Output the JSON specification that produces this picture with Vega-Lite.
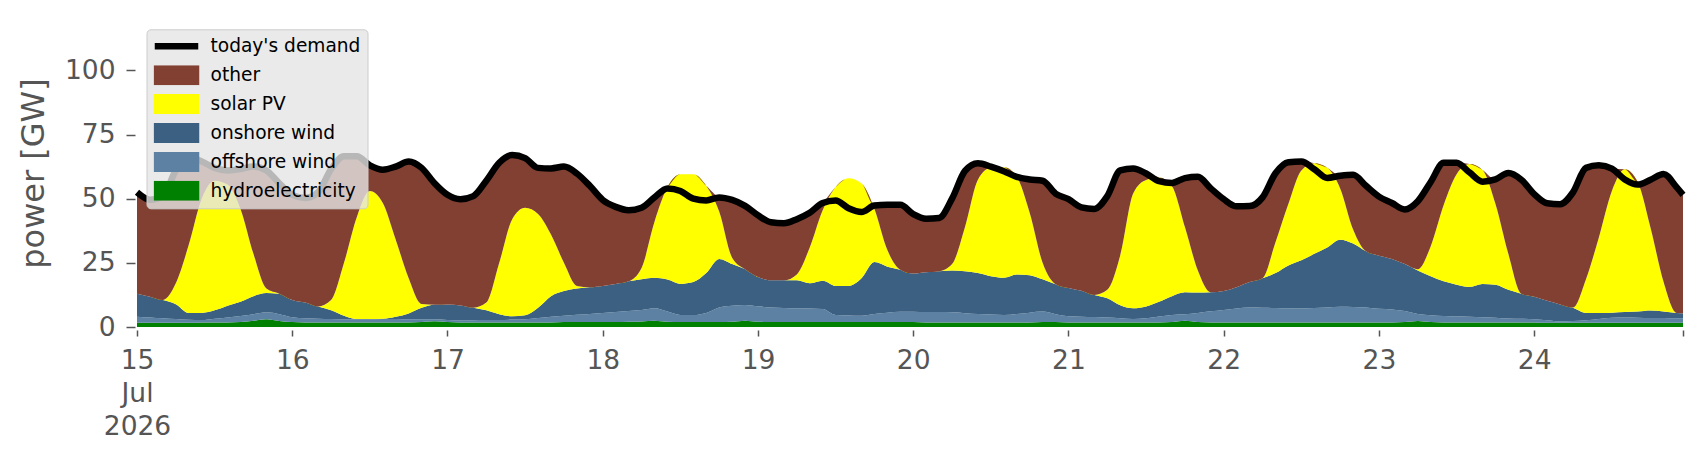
{
  "$schema": "https://vega.github.io/schema/vega-lite/v6.json",
  "width": 1546,
  "height": 308,
  "autosize": {"type": "none"},
  "padding": {"left": 137, "top": 19, "right": 23, "bottom": 133},
  "background": "white",
  "config": {"view": {"stroke": null}, "font": "DejaVu Sans"},
  "datasets": {
    "series": [
      {"source": "hydroelectricity", "rank": 1},
      {"source": "offshore wind", "rank": 2},
      {"source": "onshore wind", "rank": 3},
      {"source": "solar PV", "rank": 4},
      {"source": "other", "rank": 5}
    ],
    "gen": [
      {"t":"2026-07-15T00:00Z","hydroelectricity":1.7,"offshore wind":2.3,"onshore wind":9.0,"solar PV":0,"other":39.5,"demand":52.5},
      {"t":"2026-07-15T02:00Z","hydroelectricity":1.7,"offshore wind":2.0,"onshore wind":8.1,"solar PV":0,"other":37.8,"demand":49.6},
      {"t":"2026-07-15T04:00Z","hydroelectricity":1.7,"offshore wind":1.7,"onshore wind":7.1,"solar PV":0,"other":40.5,"demand":51.0},
      {"t":"2026-07-15T06:00Z","hydroelectricity":1.7,"offshore wind":1.4,"onshore wind":5.8,"solar PV":8.1,"other":44.0,"demand":61.0},
      {"t":"2026-07-15T08:00Z","hydroelectricity":1.7,"offshore wind":1.1,"onshore wind":2.7,"solar PV":26.5,"other":34.0,"demand":66.0},
      {"t":"2026-07-15T10:00Z","hydroelectricity":1.8,"offshore wind":0.9,"onshore wind":2.8,"solar PV":44.5,"other":14.5,"demand":64.5},
      {"t":"2026-07-15T12:00Z","hydroelectricity":1.8,"offshore wind":1.4,"onshore wind":3.3,"solar PV":50.5,"other":5.0,"demand":62.0},
      {"t":"2026-07-15T14:00Z","hydroelectricity":1.8,"offshore wind":1.9,"onshore wind":4.6,"solar PV":47.2,"other":5.5,"demand":61.0},
      {"t":"2026-07-15T16:00Z","hydroelectricity":1.9,"offshore wind":2.4,"onshore wind":5.5,"solar PV":36.2,"other":15.5,"demand":61.5},
      {"t":"2026-07-15T18:00Z","hydroelectricity":2.4,"offshore wind":2.6,"onshore wind":7.0,"solar PV":16.5,"other":34.0,"demand":62.5},
      {"t":"2026-07-15T20:00Z","hydroelectricity":3.0,"offshore wind":2.7,"onshore wind":7.5,"solar PV":1.8,"other":46.0,"demand":61.0},
      {"t":"2026-07-15T22:00Z","hydroelectricity":2.3,"offshore wind":2.7,"onshore wind":8.0,"solar PV":0,"other":43.0,"demand":56.0},
      {"t":"2026-07-16T00:00Z","hydroelectricity":1.9,"offshore wind":1.9,"onshore wind":6.7,"solar PV":0,"other":41.0,"demand":51.5},
      {"t":"2026-07-16T02:00Z","hydroelectricity":1.8,"offshore wind":1.6,"onshore wind":6.1,"solar PV":0,"other":40.8,"demand":50.3},
      {"t":"2026-07-16T04:00Z","hydroelectricity":1.8,"offshore wind":1.4,"onshore wind":4.8,"solar PV":0,"other":44.5,"demand":52.5},
      {"t":"2026-07-16T06:00Z","hydroelectricity":1.8,"offshore wind":1.3,"onshore wind":3.4,"solar PV":4.0,"other":51.0,"demand":61.5},
      {"t":"2026-07-16T08:00Z","hydroelectricity":1.8,"offshore wind":1.2,"onshore wind":1.4,"solar PV":20.6,"other":41.5,"demand":66.5},
      {"t":"2026-07-16T10:00Z","hydroelectricity":1.8,"offshore wind":1.2,"onshore wind":0.1,"solar PV":39.9,"other":23.5,"demand":66.5},
      {"t":"2026-07-16T12:00Z","hydroelectricity":1.8,"offshore wind":1.2,"onshore wind":0.1,"solar PV":49.9,"other":10.0,"demand":63.0},
      {"t":"2026-07-16T14:00Z","hydroelectricity":1.8,"offshore wind":1.3,"onshore wind":0.1,"solar PV":45.1,"other":13.0,"demand":61.3},
      {"t":"2026-07-16T16:00Z","hydroelectricity":1.8,"offshore wind":1.3,"onshore wind":0.9,"solar PV":30.0,"other":28.5,"demand":62.5},
      {"t":"2026-07-16T18:00Z","hydroelectricity":1.8,"offshore wind":1.2,"onshore wind":2.3,"solar PV":13.7,"other":45.5,"demand":64.5},
      {"t":"2026-07-16T20:00Z","hydroelectricity":1.9,"offshore wind":1.1,"onshore wind":4.5,"solar PV":1.5,"other":53.0,"demand":62.0},
      {"t":"2026-07-16T22:00Z","hydroelectricity":2.2,"offshore wind":0.8,"onshore wind":5.7,"solar PV":0,"other":47.3,"demand":56.0},
      {"t":"2026-07-17T00:00Z","hydroelectricity":1.9,"offshore wind":0.8,"onshore wind":6.1,"solar PV":0,"other":42.7,"demand":51.5},
      {"t":"2026-07-17T02:00Z","hydroelectricity":1.8,"offshore wind":0.7,"onshore wind":5.9,"solar PV":0,"other":41.4,"demand":49.8},
      {"t":"2026-07-17T04:00Z","hydroelectricity":1.8,"offshore wind":0.8,"onshore wind":4.9,"solar PV":0,"other":43.5,"demand":51.0},
      {"t":"2026-07-17T06:00Z","hydroelectricity":1.8,"offshore wind":0.9,"onshore wind":3.8,"solar PV":3.0,"other":47.5,"demand":57.0},
      {"t":"2026-07-17T08:00Z","hydroelectricity":1.8,"offshore wind":0.9,"onshore wind":2.3,"solar PV":20.0,"other":39.0,"demand":64.0},
      {"t":"2026-07-17T10:00Z","hydroelectricity":1.8,"offshore wind":1.1,"onshore wind":1.3,"solar PV":37.8,"other":25.0,"demand":67.0},
      {"t":"2026-07-17T12:00Z","hydroelectricity":1.8,"offshore wind":1.2,"onshore wind":1.6,"solar PV":41.9,"other":19.3,"demand":65.8},
      {"t":"2026-07-17T14:00Z","hydroelectricity":1.8,"offshore wind":1.7,"onshore wind":4.0,"solar PV":36.5,"other":18.0,"demand":62.0},
      {"t":"2026-07-17T16:00Z","hydroelectricity":1.8,"offshore wind":2.2,"onshore wind":8.0,"solar PV":24.0,"other":25.8,"demand":61.8},
      {"t":"2026-07-17T18:00Z","hydroelectricity":1.9,"offshore wind":2.5,"onshore wind":9.6,"solar PV":11.0,"other":37.5,"demand":62.5},
      {"t":"2026-07-17T20:00Z","hydroelectricity":1.9,"offshore wind":2.9,"onshore wind":10.2,"solar PV":1.0,"other":43.8,"demand":59.8},
      {"t":"2026-07-17T22:00Z","hydroelectricity":1.9,"offshore wind":3.2,"onshore wind":10.4,"solar PV":0,"other":39.5,"demand":55.0},
      {"t":"2026-07-18T00:00Z","hydroelectricity":1.9,"offshore wind":3.6,"onshore wind":10.5,"solar PV":0,"other":33.5,"demand":49.5},
      {"t":"2026-07-18T02:00Z","hydroelectricity":1.9,"offshore wind":3.9,"onshore wind":11.0,"solar PV":0,"other":30.0,"demand":46.8},
      {"t":"2026-07-18T04:00Z","hydroelectricity":2.0,"offshore wind":4.2,"onshore wind":11.6,"solar PV":0,"other":27.7,"demand":45.5},
      {"t":"2026-07-18T06:00Z","hydroelectricity":2.1,"offshore wind":4.5,"onshore wind":12.0,"solar PV":4.4,"other":23.5,"demand":46.5},
      {"t":"2026-07-18T08:00Z","hydroelectricity":2.4,"offshore wind":4.9,"onshore wind":11.9,"solar PV":21.8,"other":9.5,"demand":50.5},
      {"t":"2026-07-18T10:00Z","hydroelectricity":2.0,"offshore wind":4.0,"onshore wind":12.5,"solar PV":36.0,"other":0,"demand":54.0},
      {"t":"2026-07-18T12:00Z","hydroelectricity":1.9,"offshore wind":2.8,"onshore wind":12.1,"solar PV":42.7,"other":0,"demand":53.0},
      {"t":"2026-07-18T14:00Z","hydroelectricity":1.9,"offshore wind":2.8,"onshore wind":12.8,"solar PV":42.0,"other":0,"demand":50.0},
      {"t":"2026-07-18T16:00Z","hydroelectricity":1.9,"offshore wind":3.6,"onshore wind":15.5,"solar PV":34.0,"other":0,"demand":49.3},
      {"t":"2026-07-18T18:00Z","hydroelectricity":1.9,"offshore wind":5.7,"onshore wind":18.9,"solar PV":18.5,"other":5.5,"demand":50.5},
      {"t":"2026-07-18T20:00Z","hydroelectricity":2.0,"offshore wind":6.3,"onshore wind":16.2,"solar PV":2.5,"other":22.5,"demand":49.5},
      {"t":"2026-07-18T22:00Z","hydroelectricity":2.4,"offshore wind":6.2,"onshore wind":13.9,"solar PV":0,"other":24.7,"demand":47.2},
      {"t":"2026-07-19T00:00Z","hydroelectricity":2.0,"offshore wind":6.1,"onshore wind":11.4,"solar PV":0,"other":24.0,"demand":43.5},
      {"t":"2026-07-19T02:00Z","hydroelectricity":1.9,"offshore wind":5.7,"onshore wind":10.6,"solar PV":0,"other":22.6,"demand":40.8},
      {"t":"2026-07-19T04:00Z","hydroelectricity":1.9,"offshore wind":5.5,"onshore wind":10.8,"solar PV":0,"other":22.2,"demand":40.4},
      {"t":"2026-07-19T06:00Z","hydroelectricity":1.9,"offshore wind":5.4,"onshore wind":10.9,"solar PV":2.3,"other":21.5,"demand":42.0},
      {"t":"2026-07-19T08:00Z","hydroelectricity":1.9,"offshore wind":5.3,"onshore wind":9.8,"solar PV":14.0,"other":13.5,"demand":44.5},
      {"t":"2026-07-19T10:00Z","hydroelectricity":1.9,"offshore wind":5.1,"onshore wind":11.0,"solar PV":27.5,"other":2.8,"demand":48.3},
      {"t":"2026-07-19T12:00Z","hydroelectricity":1.9,"offshore wind":2.8,"onshore wind":11.3,"solar PV":38.5,"other":0,"demand":49.3},
      {"t":"2026-07-19T14:00Z","hydroelectricity":1.9,"offshore wind":2.6,"onshore wind":11.5,"solar PV":42.0,"other":0,"demand":46.3},
      {"t":"2026-07-19T16:00Z","hydroelectricity":1.9,"offshore wind":2.5,"onshore wind":14.6,"solar PV":37.0,"other":0,"demand":44.8},
      {"t":"2026-07-19T18:00Z","hydroelectricity":1.9,"offshore wind":3.2,"onshore wind":20.2,"solar PV":20.7,"other":1.3,"demand":47.3},
      {"t":"2026-07-19T20:00Z","hydroelectricity":1.9,"offshore wind":3.7,"onshore wind":17.9,"solar PV":6.5,"other":17.6,"demand":47.6},
      {"t":"2026-07-19T22:00Z","hydroelectricity":1.9,"offshore wind":4.0,"onshore wind":16.4,"solar PV":0,"other":25.3,"demand":47.6},
      {"t":"2026-07-20T00:00Z","hydroelectricity":1.9,"offshore wind":4.0,"onshore wind":14.9,"solar PV":0,"other":23.2,"demand":44.0},
      {"t":"2026-07-20T02:00Z","hydroelectricity":1.8,"offshore wind":4.0,"onshore wind":15.5,"solar PV":0,"other":20.9,"demand":42.2},
      {"t":"2026-07-20T04:00Z","hydroelectricity":1.8,"offshore wind":4.0,"onshore wind":15.9,"solar PV":0,"other":20.8,"demand":42.5},
      {"t":"2026-07-20T06:00Z","hydroelectricity":1.8,"offshore wind":3.9,"onshore wind":16.3,"solar PV":2.5,"other":25.5,"demand":50.0},
      {"t":"2026-07-20T08:00Z","hydroelectricity":1.8,"offshore wind":3.6,"onshore wind":16.3,"solar PV":17.3,"other":21.8,"demand":60.8},
      {"t":"2026-07-20T10:00Z","hydroelectricity":1.8,"offshore wind":3.3,"onshore wind":15.9,"solar PV":36.4,"other":6.4,"demand":63.8},
      {"t":"2026-07-20T12:00Z","hydroelectricity":1.8,"offshore wind":3.1,"onshore wind":14.9,"solar PV":42.2,"other":0.5,"demand":62.5},
      {"t":"2026-07-20T14:00Z","hydroelectricity":1.8,"offshore wind":2.9,"onshore wind":14.5,"solar PV":43.0,"other":0,"demand":60.7},
      {"t":"2026-07-20T16:00Z","hydroelectricity":1.8,"offshore wind":3.3,"onshore wind":15.4,"solar PV":38.0,"other":0,"demand":58.5},
      {"t":"2026-07-20T18:00Z","hydroelectricity":1.8,"offshore wind":3.8,"onshore wind":14.6,"solar PV":24.3,"other":13.0,"demand":57.5},
      {"t":"2026-07-20T20:00Z","hydroelectricity":1.9,"offshore wind":4.1,"onshore wind":12.6,"solar PV":6.4,"other":32.0,"demand":57.0},
      {"t":"2026-07-20T22:00Z","hydroelectricity":1.9,"offshore wind":3.1,"onshore wind":11.7,"solar PV":0,"other":35.3,"demand":52.0},
      {"t":"2026-07-21T00:00Z","hydroelectricity":1.8,"offshore wind":2.4,"onshore wind":11.0,"solar PV":0,"other":34.6,"demand":49.8},
      {"t":"2026-07-21T02:00Z","hydroelectricity":1.8,"offshore wind":2.2,"onshore wind":10.1,"solar PV":0,"other":32.5,"demand":46.6},
      {"t":"2026-07-21T04:00Z","hydroelectricity":1.8,"offshore wind":2.1,"onshore wind":8.6,"solar PV":0,"other":33.5,"demand":46.0},
      {"t":"2026-07-21T06:00Z","hydroelectricity":1.8,"offshore wind":1.9,"onshore wind":7.5,"solar PV":3.3,"other":36.5,"demand":51.0},
      {"t":"2026-07-21T08:00Z","hydroelectricity":1.8,"offshore wind":1.6,"onshore wind":5.1,"solar PV":19.5,"other":33.0,"demand":61.0},
      {"t":"2026-07-21T10:00Z","hydroelectricity":1.8,"offshore wind":1.3,"onshore wind":4.2,"solar PV":44.7,"other":9.8,"demand":61.8},
      {"t":"2026-07-21T12:00Z","hydroelectricity":1.8,"offshore wind":1.6,"onshore wind":4.6,"solar PV":49.3,"other":2.5,"demand":59.8},
      {"t":"2026-07-21T14:00Z","hydroelectricity":1.8,"offshore wind":2.3,"onshore wind":5.7,"solar PV":48.4,"other":0,"demand":56.8},
      {"t":"2026-07-21T16:00Z","hydroelectricity":1.9,"offshore wind":2.8,"onshore wind":7.3,"solar PV":42.8,"other":1.3,"demand":56.1},
      {"t":"2026-07-21T18:00Z","hydroelectricity":2.4,"offshore wind":2.6,"onshore wind":8.5,"solar PV":25.5,"other":19.0,"demand":58.0},
      {"t":"2026-07-21T20:00Z","hydroelectricity":1.9,"offshore wind":3.6,"onshore wind":7.9,"solar PV":8.6,"other":36.5,"demand":58.5},
      {"t":"2026-07-21T22:00Z","hydroelectricity":1.8,"offshore wind":4.3,"onshore wind":7.4,"solar PV":0,"other":40.5,"demand":54.0},
      {"t":"2026-07-22T00:00Z","hydroelectricity":1.8,"offshore wind":4.8,"onshore wind":7.4,"solar PV":0,"other":35.8,"demand":49.8},
      {"t":"2026-07-22T02:00Z","hydroelectricity":1.8,"offshore wind":5.4,"onshore wind":8.3,"solar PV":0,"other":31.5,"demand":47.0},
      {"t":"2026-07-22T04:00Z","hydroelectricity":1.8,"offshore wind":5.8,"onshore wind":9.9,"solar PV":0,"other":29.6,"demand":47.1},
      {"t":"2026-07-22T06:00Z","hydroelectricity":1.8,"offshore wind":5.7,"onshore wind":11.5,"solar PV":0,"other":31.5,"demand":50.5},
      {"t":"2026-07-22T08:00Z","hydroelectricity":1.8,"offshore wind":5.6,"onshore wind":13.6,"solar PV":12.0,"other":26.9,"demand":59.9},
      {"t":"2026-07-22T10:00Z","hydroelectricity":1.8,"offshore wind":5.5,"onshore wind":16.7,"solar PV":24.0,"other":16.2,"demand":64.2},
      {"t":"2026-07-22T12:00Z","hydroelectricity":1.8,"offshore wind":5.4,"onshore wind":18.8,"solar PV":35.0,"other":3.5,"demand":64.5},
      {"t":"2026-07-22T14:00Z","hydroelectricity":1.8,"offshore wind":5.6,"onshore wind":21.1,"solar PV":35.3,"other":0,"demand":61.5},
      {"t":"2026-07-22T16:00Z","hydroelectricity":1.8,"offshore wind":5.8,"onshore wind":23.4,"solar PV":31.0,"other":0,"demand":58.1},
      {"t":"2026-07-22T18:00Z","hydroelectricity":1.8,"offshore wind":6.1,"onshore wind":26.1,"solar PV":20.0,"other":4.9,"demand":58.9},
      {"t":"2026-07-22T20:00Z","hydroelectricity":1.8,"offshore wind":6.0,"onshore wind":24.7,"solar PV":5.5,"other":21.3,"demand":59.3},
      {"t":"2026-07-22T22:00Z","hydroelectricity":1.8,"offshore wind":5.8,"onshore wind":21.9,"solar PV":0,"other":25.5,"demand":55.0},
      {"t":"2026-07-23T00:00Z","hydroelectricity":1.8,"offshore wind":5.3,"onshore wind":20.7,"solar PV":0,"other":23.0,"demand":50.8},
      {"t":"2026-07-23T02:00Z","hydroelectricity":1.8,"offshore wind":5.0,"onshore wind":19.7,"solar PV":0,"other":21.8,"demand":48.3},
      {"t":"2026-07-23T04:00Z","hydroelectricity":1.9,"offshore wind":4.3,"onshore wind":18.3,"solar PV":0,"other":21.3,"demand":45.8},
      {"t":"2026-07-23T06:00Z","hydroelectricity":2.3,"offshore wind":2.8,"onshore wind":16.9,"solar PV":0.5,"other":26.5,"demand":49.0},
      {"t":"2026-07-23T08:00Z","hydroelectricity":1.9,"offshore wind":2.7,"onshore wind":15.2,"solar PV":11.7,"other":25.0,"demand":56.5},
      {"t":"2026-07-23T10:00Z","hydroelectricity":1.8,"offshore wind":2.5,"onshore wind":13.5,"solar PV":29.7,"other":16.5,"demand":64.0},
      {"t":"2026-07-23T12:00Z","hydroelectricity":1.8,"offshore wind":2.4,"onshore wind":12.3,"solar PV":43.0,"other":4.5,"demand":64.0},
      {"t":"2026-07-23T14:00Z","hydroelectricity":1.8,"offshore wind":2.2,"onshore wind":11.6,"solar PV":47.9,"other":0,"demand":60.2},
      {"t":"2026-07-23T16:00Z","hydroelectricity":1.8,"offshore wind":2.0,"onshore wind":13.0,"solar PV":44.4,"other":0,"demand":56.6},
      {"t":"2026-07-23T18:00Z","hydroelectricity":1.8,"offshore wind":1.8,"onshore wind":12.9,"solar PV":31.5,"other":9.5,"demand":57.5},
      {"t":"2026-07-23T20:00Z","hydroelectricity":1.8,"offshore wind":1.5,"onshore wind":11.2,"solar PV":14.0,"other":31.5,"demand":60.0},
      {"t":"2026-07-23T22:00Z","hydroelectricity":1.8,"offshore wind":1.4,"onshore wind":9.8,"solar PV":0,"other":44.4,"demand":57.4},
      {"t":"2026-07-24T00:00Z","hydroelectricity":1.8,"offshore wind":1.2,"onshore wind":8.8,"solar PV":0,"other":40.0,"demand":51.8},
      {"t":"2026-07-24T02:00Z","hydroelectricity":1.7,"offshore wind":0.9,"onshore wind":7.6,"solar PV":0,"other":38.0,"demand":48.2},
      {"t":"2026-07-24T04:00Z","hydroelectricity":1.7,"offshore wind":0.5,"onshore wind":6.6,"solar PV":0,"other":39.0,"demand":47.8},
      {"t":"2026-07-24T06:00Z","hydroelectricity":1.7,"offshore wind":0.6,"onshore wind":5.2,"solar PV":0.1,"other":44.9,"demand":52.5},
      {"t":"2026-07-24T08:00Z","hydroelectricity":1.7,"offshore wind":0.9,"onshore wind":2.9,"solar PV":13.1,"other":43.4,"demand":62.0},
      {"t":"2026-07-24T10:00Z","hydroelectricity":1.7,"offshore wind":1.4,"onshore wind":2.4,"solar PV":29.5,"other":28.0,"demand":63.0},
      {"t":"2026-07-24T12:00Z","hydroelectricity":1.7,"offshore wind":1.9,"onshore wind":2.0,"solar PV":47.4,"other":8.7,"demand":61.7},
      {"t":"2026-07-24T14:00Z","hydroelectricity":1.7,"offshore wind":2.0,"onshore wind":2.1,"solar PV":55.7,"other":0,"demand":57.5},
      {"t":"2026-07-24T16:00Z","hydroelectricity":1.7,"offshore wind":1.9,"onshore wind":2.4,"solar PV":50.5,"other":0,"demand":55.5},
      {"t":"2026-07-24T18:00Z","hydroelectricity":1.7,"offshore wind":1.8,"onshore wind":2.9,"solar PV":32.1,"other":18.9,"demand":57.4},
      {"t":"2026-07-24T20:00Z","hydroelectricity":1.7,"offshore wind":1.8,"onshore wind":2.5,"solar PV":11.5,"other":42.1,"demand":59.6},
      {"t":"2026-07-24T22:00Z","hydroelectricity":1.7,"offshore wind":1.7,"onshore wind":2.1,"solar PV":0,"other":49.0,"demand":54.5},
      {"t":"2026-07-24T23:00Z","hydroelectricity":1.7,"offshore wind":1.7,"onshore wind":1.9,"solar PV":0,"other":46.2,"demand":51.5}
    ]
  },
  "data": {"name": "gen"},
  "encoding": {
    "x": {
      "field": "t",
      "type": "temporal",
      "scale": {
        "type": "utc",
        "domain": [
          {"year": 2026, "month": "jul", "date": 15, "hours": 0, "utc": true},
          {"year": 2026, "month": "jul", "date": 24, "hours": 23, "utc": true}
        ]
      },
      "axis": {
        "title": null,
        "values": [
          {"year": 2026, "month": "jul", "date": 15, "utc": true},
          {"year": 2026, "month": "jul", "date": 16, "utc": true},
          {"year": 2026, "month": "jul", "date": 17, "utc": true},
          {"year": 2026, "month": "jul", "date": 18, "utc": true},
          {"year": 2026, "month": "jul", "date": 19, "utc": true},
          {"year": 2026, "month": "jul", "date": 20, "utc": true},
          {"year": 2026, "month": "jul", "date": 21, "utc": true},
          {"year": 2026, "month": "jul", "date": 22, "utc": true},
          {"year": 2026, "month": "jul", "date": 23, "utc": true},
          {"year": 2026, "month": "jul", "date": 24, "utc": true},
          {"year": 2026, "month": "jul", "date": 24, "hours": 23, "utc": true}
        ],
        "labelExpr": "utchours(datum.value) !== 0 ? '' : (utcdate(datum.value) === 15 ? ['15', 'Jul', '2026'] : utcFormat(datum.value, '%-d'))",
        "labelFont": "DejaVu Sans",
        "labelFontSize": 26.5,
        "labelColor": "#555555",
        "labelLineHeight": 33,
        "labelPadding": 11,
        "labelFlush": false,
        "labelOverlap": false,
        "offset": 3,
        "tickColor": "#555555",
        "tickSize": 6,
        "tickWidth": 1.5,
        "domain": false,
        "grid": false
      }
    }
  },
  "layer": [
    {
      "transform": [
        {"fold": ["hydroelectricity", "offshore wind", "onshore wind", "solar PV", "other"], "as": ["source", "GW"]},
        {"lookup": "source", "from": {"data": {"name": "series"}, "key": "source", "fields": ["rank"]}}
      ],
      "mark": {"type": "area", "interpolate": "monotone"},
      "encoding": {
        "y": {
          "field": "GW",
          "type": "quantitative",
          "stack": "zero",
          "scale": {"domain": [0, 120], "nice": false},
          "axis": {
            "title": "power [GW]",
            "titleFont": "DejaVu Sans",
            "titleFontSize": 32,
            "titleFontWeight": "normal",
            "titleColor": "#555555",
            "titlePadding": 14,
            "values": [0, 25, 50, 75, 100],
            "labelFont": "DejaVu Sans",
            "labelFontSize": 26.5,
            "labelColor": "#555555",
            "labelPadding": 11,
            "offset": 2,
            "tickColor": "#555555",
            "tickSize": 9,
            "tickWidth": 1.5,
            "domain": false,
            "grid": false
          }
        },
        "color": {
          "field": "source",
          "type": "nominal",
          "scale": {
            "domain": ["today's demand", "other", "solar PV", "onshore wind", "offshore wind", "hydroelectricity"],
            "range": ["#000000", "#814032", "#FFFF00", "#3B6082", "#5C81A3", "#008000"]
          },
          "legend": {
            "title": null,
            "orient": "none",
            "legendX": 9.5,
            "legendY": 10.3,
            "fillColor": "rgba(229,229,229,0.8)",
            "strokeColor": "#cccccc",
            "cornerRadius": 4,
            "padding": 7,
            "labelFont": "DejaVu Sans",
            "labelFontSize": 18.6,
            "labelColor": "#000000",
            "symbolSize": 225,
            "symbolOffset": 12,
            "labelOffset": 23,
            "clipHeight": 20,
            "rowPadding": 8.9,
            "encode": {
              "symbols": {
                "update": {
                  "shape": {"signal": "datum.value === \"today's demand\" ? 'M-2.9,0H2.9' : 'M-2.6,-0.9H2.6V0.9H-2.6Z'"},
                  "fill": {"signal": "datum.value === \"today's demand\" ? 'transparent' : scale('color', datum.value)"},
                  "stroke": {"signal": "datum.value === \"today's demand\" ? '#000000' : 'transparent'"},
                  "strokeWidth": {"value": 6.5},
                  "opacity": {"value": 1},
                  "fillOpacity": {"value": 1}
                }
              }
            }
          }
        },
        "order": {"field": "rank", "type": "quantitative", "sort": "ascending"}
      }
    },
    {
      "mark": {"type": "line", "interpolate": "monotone", "strokeWidth": 6.5, "strokeJoin": "round"},
      "encoding": {
        "y": {
          "field": "demand",
          "type": "quantitative",
          "axis": {
            "title": "power [GW]",
            "titleFont": "DejaVu Sans",
            "titleFontSize": 32,
            "titleFontWeight": "normal",
            "titleColor": "#555555",
            "titlePadding": 14,
            "values": [0, 25, 50, 75, 100],
            "labelFont": "DejaVu Sans",
            "labelFontSize": 26.5,
            "labelColor": "#555555",
            "labelPadding": 11,
            "offset": 2,
            "tickColor": "#555555",
            "tickSize": 9,
            "tickWidth": 1.5,
            "domain": false,
            "grid": false
          }
        },
        "color": {"datum": "today's demand", "type": "nominal"}
      }
    }
  ]
}
